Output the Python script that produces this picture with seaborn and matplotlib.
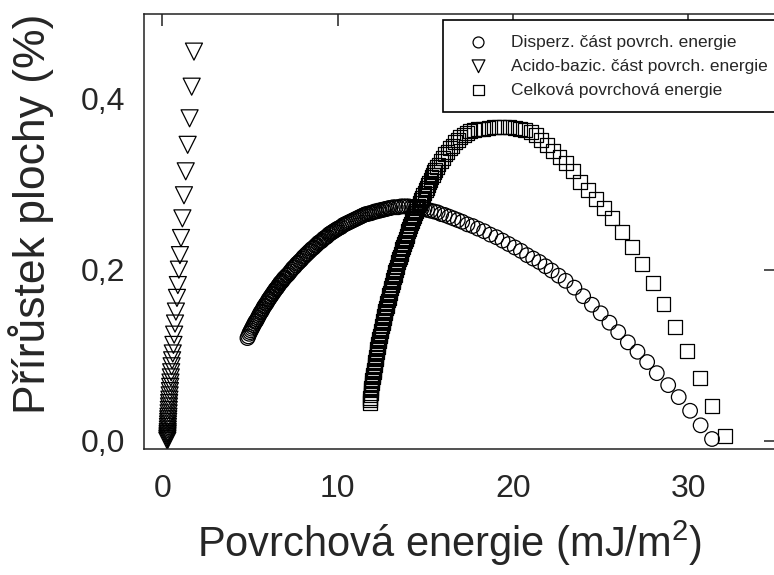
import matplotlib
matplotlib.use("Agg")
import matplotlib.pyplot as plt
import seaborn as sns
import pandas as pd
from matplotlib.ticker import MultipleLocator, FuncFormatter

# disperzni cast povrchove energie (kolecka)
disp_x = [4.85, 4.90, 4.95, 5.00, 5.05, 5.10, 5.15, 5.20, 5.25, 5.30, 5.35, 5.40, 5.45, 5.50,
          5.55, 5.60, 5.65, 5.70, 5.75, 5.80, 5.85, 5.90, 5.95, 6.00, 6.05, 6.10, 6.15, 6.20,
          6.25, 6.30, 6.35, 6.40, 6.45, 6.50, 6.55, 6.60, 6.65, 6.70, 6.75, 6.80, 6.85, 6.90,
          6.95, 7.00,
          7.08, 7.15, 7.23, 7.30, 7.38, 7.45, 7.53, 7.60, 7.68, 7.75, 7.83, 7.90, 7.98, 8.05,
          8.13, 8.20, 8.28, 8.35, 8.43, 8.50, 8.58, 8.65, 8.73, 8.80, 8.88, 8.95, 9.03, 9.10,
          9.18, 9.25, 9.33, 9.40, 9.48, 9.55, 9.63, 9.70, 9.78, 9.85, 9.93,
          10.0, 10.1, 10.2, 10.3, 10.4, 10.5, 10.6, 10.7, 10.8, 10.9, 11.0, 11.1, 11.2, 11.3,
          11.4, 11.5, 11.6, 11.7, 11.8, 11.9, 12.0, 12.1, 12.2, 12.3, 12.4, 12.5, 12.6, 12.7,
          12.8, 12.9, 13.0,
          13.15, 13.3, 13.45, 13.6, 13.75, 13.9, 14.05, 14.2, 14.35, 14.5, 14.65, 14.8, 14.95,
          15.1, 15.3, 15.5, 15.7, 15.9, 16.1, 16.35, 16.6, 16.85,
          17.1, 17.4, 17.7, 18.0, 18.35, 18.7, 19.05, 19.4, 19.75, 20.1, 20.45, 20.8, 21.15,
          21.5, 21.85, 22.2, 22.6,
          23.0, 23.5, 24.0, 24.5, 25.0, 25.5, 26.0, 26.55, 27.1, 27.65, 28.2, 28.85, 29.45,
          30.1, 30.7, 31.35]
disp_y = [0.120, 0.122, 0.125, 0.127, 0.129, 0.131, 0.133, 0.135, 0.137, 0.139, 0.140, 0.142,
          0.144, 0.146, 0.148, 0.150, 0.151, 0.153, 0.155, 0.157, 0.158, 0.160, 0.161, 0.163,
          0.165, 0.166, 0.168, 0.169, 0.171, 0.172, 0.174, 0.175, 0.177, 0.178, 0.179, 0.181,
          0.182, 0.184, 0.185, 0.186, 0.187, 0.189, 0.190, 0.191,
          0.193, 0.194, 0.196, 0.198, 0.200, 0.202, 0.203, 0.205, 0.207, 0.208, 0.210, 0.211,
          0.213, 0.215, 0.216, 0.218, 0.219, 0.221, 0.222, 0.224, 0.225, 0.226, 0.228, 0.229,
          0.231, 0.232, 0.233, 0.234, 0.236, 0.237, 0.238, 0.239, 0.241, 0.242, 0.243, 0.244,
          0.245, 0.246, 0.247,
          0.248, 0.249, 0.250, 0.252, 0.253, 0.254, 0.255, 0.256, 0.257, 0.258, 0.259, 0.260,
          0.261, 0.262, 0.263, 0.264, 0.265, 0.265, 0.266, 0.266, 0.267, 0.268, 0.268, 0.269,
          0.269, 0.270, 0.270, 0.271, 0.271, 0.272, 0.272,
          0.273, 0.273, 0.273, 0.274, 0.274, 0.274, 0.274, 0.273, 0.273, 0.273, 0.272, 0.272,
          0.271, 0.270, 0.269, 0.268, 0.267, 0.265, 0.264, 0.262, 0.260, 0.258,
          0.256, 0.253, 0.251, 0.248, 0.245, 0.241, 0.238, 0.234, 0.230, 0.226, 0.222, 0.217,
          0.213, 0.209, 0.204, 0.199, 0.193,
          0.187, 0.179, 0.169, 0.159, 0.149, 0.138, 0.127, 0.115, 0.104, 0.092, 0.079, 0.065,
          0.051, 0.035, 0.018, 0.002]

# acido-bazicka cast (trojuhelniky)
ab_x = [0.28, 0.285, 0.29, 0.295, 0.30, 0.305, 0.31, 0.315, 0.32, 0.33, 0.335, 0.345,
        0.355, 0.365, 0.375, 0.385, 0.40, 0.415, 0.43, 0.445, 0.46, 0.48, 0.50, 0.525,
        0.555, 0.59, 0.63, 0.67, 0.72, 0.77, 0.83, 0.88, 0.94, 1.00, 1.06, 1.14,
        1.23, 1.33, 1.44, 1.55, 1.67, 1.80]
ab_y = [0.000, 0.002, 0.004, 0.006, 0.008, 0.010, 0.013, 0.016, 0.019, 0.022, 0.025, 0.028,
        0.032, 0.036, 0.040, 0.044, 0.048, 0.053, 0.058, 0.063, 0.068, 0.074, 0.080, 0.087,
        0.094, 0.102, 0.112, 0.124, 0.137, 0.151, 0.167, 0.182, 0.200, 0.217, 0.237, 0.260,
        0.287, 0.315, 0.346, 0.377, 0.414, 0.455]

# celkova povrchova energie (ctverce)
cel_x = [11.85, 11.85, 11.86, 11.87, 11.88, 11.90, 11.91, 11.93, 11.95, 11.97,
         12.00, 12.02, 12.05, 12.07, 12.10, 12.12, 12.14, 12.16, 12.18, 12.21,
         12.23, 12.26, 12.29, 12.32, 12.35, 12.38, 12.41, 12.44, 12.47, 12.50,
         12.53, 12.56, 12.60, 12.63, 12.66, 12.69, 12.72, 12.76, 12.80, 12.83,
         12.86, 12.90, 12.94, 12.97, 13.01, 13.05, 13.09, 13.13, 13.17, 13.21,
         13.25, 13.29, 13.33, 13.37, 13.41, 13.46, 13.50, 13.55, 13.60, 13.64,
         13.69, 13.74, 13.80, 13.85, 13.89, 13.94, 13.98, 14.02, 14.07, 14.12,
         14.18, 14.24, 14.30, 14.36, 14.42, 14.48, 14.54, 14.61, 14.68, 14.74,
         14.81, 14.88, 14.95, 15.02, 15.08, 15.15, 15.22, 15.29, 15.35, 15.43,
         15.50, 15.57, 15.65,
         15.75, 15.87, 16.0, 16.13, 16.26, 16.4, 16.55, 16.7, 16.85, 17.0, 17.18, 17.36,
         17.55, 17.75,
         18.0, 18.3, 18.6, 18.9, 19.2, 19.5, 19.8, 20.1, 20.4, 20.7, 21.0,
         21.3, 21.6, 21.95, 22.3, 22.65, 23.0, 23.4, 23.83, 24.3, 24.75, 25.2, 25.67,
         26.21, 26.78, 27.35, 27.96, 28.58, 29.25, 29.92, 30.64, 31.35, 32.1]
cel_y = [0.044, 0.047, 0.050, 0.053, 0.056, 0.059, 0.062, 0.065, 0.068, 0.071,
         0.074, 0.077, 0.080, 0.083, 0.086, 0.089, 0.092, 0.095, 0.098, 0.101,
         0.104, 0.107, 0.110, 0.113, 0.116, 0.119, 0.122, 0.125, 0.128, 0.131,
         0.134, 0.137, 0.140, 0.143, 0.146, 0.149, 0.152, 0.155, 0.158, 0.161,
         0.164, 0.167, 0.170, 0.173, 0.176, 0.179, 0.182, 0.185, 0.188, 0.191,
         0.194, 0.197, 0.200, 0.203, 0.206, 0.209, 0.212, 0.215, 0.218, 0.221,
         0.224, 0.227, 0.230, 0.233, 0.236, 0.239, 0.242, 0.245, 0.248, 0.251,
         0.254, 0.257, 0.260, 0.263, 0.266, 0.269, 0.272, 0.275, 0.278, 0.281,
         0.284, 0.287, 0.290, 0.293, 0.296, 0.299, 0.302, 0.305, 0.308, 0.311,
         0.314, 0.317, 0.320,
         0.323, 0.327, 0.331, 0.335, 0.338, 0.342, 0.345, 0.349, 0.352, 0.355, 0.358, 0.360,
         0.362, 0.363,
         0.364, 0.365, 0.366, 0.367, 0.367, 0.367, 0.367, 0.366, 0.365, 0.363, 0.361,
         0.357, 0.352, 0.346, 0.339, 0.332, 0.325, 0.315, 0.303, 0.293, 0.283, 0.272, 0.260,
         0.244, 0.227, 0.207, 0.184, 0.160, 0.133, 0.105, 0.073, 0.041, 0.005]

labels = ["Disperz. část povrch. energie",
          "Acido-bazic. část povrch. energie",
          "Celková povrchová energie"]
markers = ["o", "v", "s"]
sizes = [110, 150, 100]

df = pd.concat([
    pd.DataFrame({"x": disp_x, "y": disp_y, "serie": labels[0]}),
    pd.DataFrame({"x": ab_x, "y": ab_y, "serie": labels[1]}),
    pd.DataFrame({"x": cel_x, "y": cel_y, "serie": labels[2]}),
])

sns.set_theme(style="white")
plt.rcParams["font.family"] = ["Liberation Sans", "DejaVu Sans"]
plt.rcParams["mathtext.fontset"] = "custom"
plt.rcParams["mathtext.rm"] = "Liberation Sans"
plt.rcParams["mathtext.default"] = "regular"

fig = plt.figure(figsize=(7.74, 5.75), dpi=100)
ax = fig.add_axes([144 / 774, 126 / 575, 632 / 774, 435 / 575])

for name, m, s in zip(labels, markers, sizes):
    sns.scatterplot(data=df[df["serie"] == name], x="x", y="y", marker=m, s=s,
                    facecolor="none", edgecolor="black", linewidth=0.9,
                    label=name, ax=ax)

ax.set_xlim(-1.05, 35.0)
ax.set_ylim(-0.0097, 0.499)

ax.xaxis.set_major_locator(MultipleLocator(10))
ax.xaxis.set_minor_locator(MultipleLocator(2))
ax.yaxis.set_major_locator(MultipleLocator(0.2))
ax.yaxis.set_minor_locator(MultipleLocator(0.04))
ax.yaxis.set_major_formatter(FuncFormatter(lambda v, p: f"{v:.1f}".replace(".", ",")))

ax.tick_params(which="both", direction="in", color="#222222", width=1.1)
ax.tick_params(which="major", top=True, right=True, length=8.6, labelsize=23)
ax.tick_params(axis="x", which="major", pad=18)
ax.tick_params(axis="y", which="major", pad=13.5)
ax.tick_params(which="minor", length=4.8)
for sp in ax.spines.values():
    sp.set_color("#222222")
    sp.set_linewidth(1.1)

ax.set_xlabel("Povrchová energie (mJ/m$^{2}$)", fontsize=30)
ax.set_ylabel("Přírůstek plochy (%)", fontsize=32)
ax.xaxis.set_label_coords(0.484, -0.16)
ax.yaxis.set_label_coords(-0.142, 0.54)

# legenda presahuje za pravy okraj obrazku
leg = ax.legend(loc="upper left", bbox_to_anchor=(0.473, 0.986, 0.9, 0), mode="expand",
                fontsize=12.5, frameon=True, fancybox=False, framealpha=1,
                edgecolor="black", borderpad=0.85, handlelength=2.4, handletextpad=0.65,
                labelspacing=0.5, markerscale=0.75, borderaxespad=0)
leg.get_frame().set_linewidth(1.2)

fig.savefig("out.png", dpi=100)
